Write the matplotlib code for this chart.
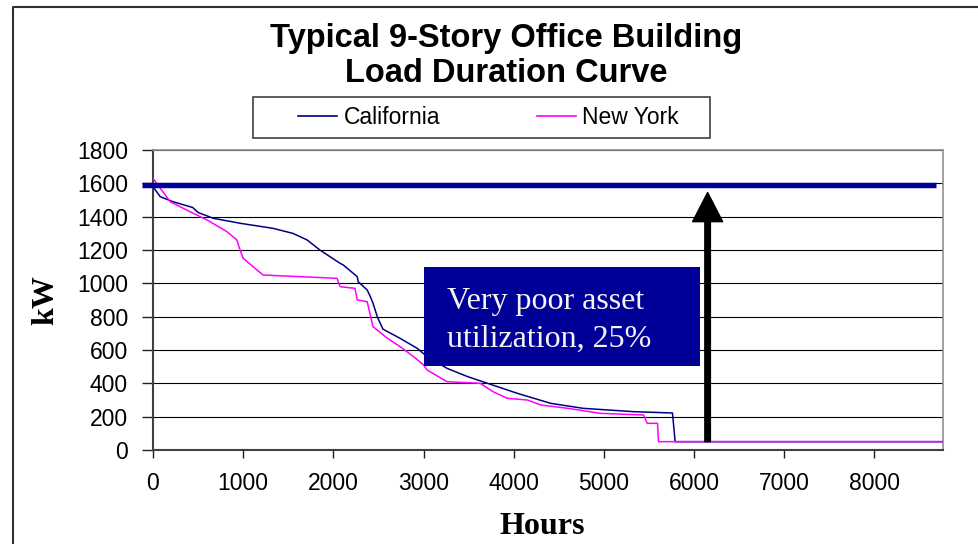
import matplotlib
matplotlib.use("Agg")
import matplotlib.pyplot as plt
from matplotlib.lines import Line2D
from matplotlib.patches import Rectangle

# ---- data ----
ca_hours = [0, 80, 220, 440, 500, 670, 970, 1330, 1550, 1710, 1850, 2075, 2110,
            2265, 2275, 2375, 2410, 2440, 2490, 2550, 2740, 2930, 3040, 3260,
            3490, 3710, 4040, 4410, 4770, 5330, 5760, 5790, 8760]
ca_kw = [1580, 1520, 1490, 1455, 1425, 1390, 1360, 1330, 1300, 1260, 1200, 1120, 1110,
         1040, 1010, 960, 920, 880, 795, 725, 670, 610, 560, 490,
         440, 400, 340, 280, 250, 230, 222, 50, 50]

ny_hours = [0, 190, 410, 600, 820, 930, 965, 1000, 1110, 1220, 1630, 2040, 2075,
            2240, 2265, 2375, 2440, 2600, 2740, 2890, 3000, 3040, 3260, 3630,
            3770, 3930, 4150, 4300, 4600, 4960, 5440, 5480, 5595, 5605, 8760]
ny_kw = [1630, 1490, 1430, 1380, 1310, 1260, 1200, 1150, 1100, 1050, 1040, 1030, 980,
         970, 900, 890, 740, 670, 620, 560, 510, 480, 410, 400,
         350, 310, 300, 270, 250, 220, 210, 160, 160, 50, 50]

capacity_kw = 1590
capacity_span = [-122, 8677]
arrow_hour = 6150
arrow_from_kw = 50
arrow_to_kw = 1545
box_hours = [3008, 6060]
box_kw = [504, 1098]
note_lines = ["Very poor asset", "utilization, 25%"]
note_x = 3262
note_baselines = [844, 620]

x_ticks = [0, 1000, 2000, 3000, 4000, 5000, 6000, 7000, 8000]
y_ticks = [0, 200, 400, 600, 800, 1000, 1200, 1400, 1600, 1800]

title_lines = ["Typical 9-Story Office Building", "Load Duration Curve"]
series_names = ["California", "New York"]
ca_color = "#000080"
ny_color = "#FF00FF"
navy_box = "#000099"

W, H = 979, 544
fig = plt.figure(figsize=(W / 100, H / 100), dpi=100)
fig.patch.set_facecolor("white")

ax = fig.add_axes([153 / W, (H - 450) / H, 790 / W, 300 / H])
ax.set_xlim(0, 8760)
ax.set_ylim(0, 1800)

ax.plot(ca_hours, ca_kw, color=ca_color, lw=1.1, zorder=3)
ax.plot(ny_hours, ny_kw, color=ny_color, lw=1.1, zorder=3.1)

# capacity line
ax.plot(capacity_span, [capacity_kw, capacity_kw], color=navy_box, lw=3.9,
        solid_capstyle="butt", clip_on=False, zorder=4)

# arrow
ax.annotate("", xy=(arrow_hour, arrow_to_kw), xytext=(arrow_hour, arrow_from_kw),
            arrowprops=dict(facecolor="black", edgecolor="black", width=4.0,
                            headwidth=21.6, headlength=21, shrink=0),
            zorder=5)

# note box
ax.add_patch(Rectangle((box_hours[0], box_kw[0]), box_hours[1] - box_hours[0],
                       box_kw[1] - box_kw[0], facecolor=navy_box, edgecolor="none",
                       zorder=6))
for line, yb in zip(note_lines, note_baselines):
    ax.text(note_x, yb, line, color="#F4F4F4", fontsize=23,
            family="Liberation Serif", ha="left", va="baseline", zorder=7)

# axes styling
ax.set_xticks(x_ticks)
ax.set_yticks(y_ticks)
ax.set_xticklabels([str(v) for v in x_ticks])
ax.set_yticklabels([str(v) for v in y_ticks])
for lab in ax.get_xticklabels() + ax.get_yticklabels():
    lab.set_family("Liberation Sans")
    lab.set_fontsize(16.5)
ax.tick_params(axis="both", direction="out", length=6, width=1, color="#202020",
               pad=10, labelcolor="black")
ax.tick_params(axis="y", length=8)
ax.grid(axis="y", color="black", lw=0.8, zorder=1)
ax.set_axisbelow(True)
for s in ("left", "bottom"):
    ax.spines[s].set_color("#404040")
    ax.spines[s].set_linewidth(1.5)
for s in ("top", "right"):
    ax.spines[s].set_color("#909090")
    ax.spines[s].set_linewidth(1.2)

# axis titles
fig.text(46 / W, 1 - 300 / H, "kW", rotation=90, fontsize=23, fontweight="bold",
         family="Liberation Serif", ha="center", va="center")
fig.text(542 / W, 1 - 534 / H, "Hours", fontsize=23, fontweight="bold",
         family="Liberation Serif", ha="center", va="baseline")

# chart title
for line, yb in zip(title_lines, [47, 82]):
    fig.text(506 / W, 1 - yb / H, line, fontsize=23.5, fontweight="bold",
             family="Liberation Sans", ha="center", va="baseline")

# legend box
fig.add_artist(Rectangle((253 / W, 1 - 138 / H), (710 - 253) / W, (138 - 97) / H,
                         transform=fig.transFigure, facecolor="white",
                         edgecolor="#404040", lw=1.2))
handles = [Line2D([], [], color=ca_color, lw=1.2), Line2D([], [], color=ny_color, lw=1.2)]
fig.legend(handles, series_names, loc="center left",
           bbox_to_anchor=(298 / W, 1 - 117.5 / H), ncol=2, frameon=False,
           borderpad=0, borderaxespad=0, handlelength=1.7, handletextpad=0.3,
           columnspacing=4.2, prop={"family": "Liberation Sans", "size": 16.5})

# outer frame
fig.add_artist(Line2D([13 / W, 13 / W, 1.0], [0.0, 1 - 7 / H, 1 - 7 / H],
                      transform=fig.transFigure, color="#303030", lw=1.5))

fig.savefig("out.png", dpi=100)
